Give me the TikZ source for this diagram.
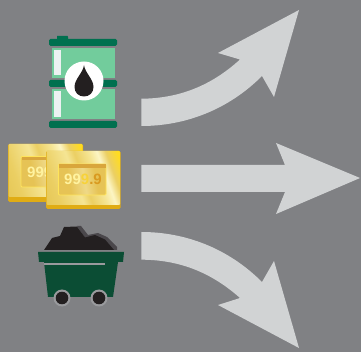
\documentclass[tikz,border=0pt]{standalone}
\usepackage{fontspec}
\setmainfont{Liberation Sans}
\definecolor{bgc}{HTML}{808184}
\definecolor{arrowc}{HTML}{D1D3D4}
\definecolor{barrelbar}{HTML}{00704F}
\definecolor{barrelbody}{HTML}{72CC9C}
\definecolor{barrelhi}{HTML}{EDF1F2}
\definecolor{cartc}{HTML}{0B4D34}
\definecolor{coalc}{HTML}{231F20}
\definecolor{coalside}{HTML}{4A474B}
\definecolor{gA}{HTML}{DDBB40}
\definecolor{gB}{HTML}{FCF5C4}
\definecolor{gC}{HTML}{EBCF63}
\definecolor{gD}{HTML}{FFDC20}
\definecolor{gE}{HTML}{E0AC14}
\definecolor{gF}{HTML}{F5E594}
\definecolor{gT}{HTML}{FFF3A0}
\definecolor{gU}{HTML}{FFE45A}
\definecolor{gV}{HTML}{D99A20}
\definecolor{gW}{HTML}{F7D23A}
\definecolor{gP}{HTML}{E6C355}
\definecolor{gQ}{HTML}{EFD987}
\definecolor{gR}{HTML}{D9A63C}
\pgfdeclareverticalshading{goldshade}{100bp}{
 color(0bp)=(gA); color(28bp)=(gC); color(44bp)=(gF); color(50bp)=(gC); color(60bp)=(gF); color(66bp)=(gB);
 color(72bp)=(gC); color(80bp)=(gD); color(100bp)=(gD)}
\pgfdeclareverticalshading{goldinner}{100bp}{
 color(0bp)=(gP); color(35bp)=(gP); color(52bp)=(gQ); color(65bp)=(gP); color(100bp)=(gP)}
\tikzset{
 bararrow/.style={fill=arrowc,draw=none},
 barrelband/.style={fill=barrelbar,draw=none,rounded corners=1.5pt},
 barrelpanel/.style={fill=barrelbody,draw=none},
 barrelshine/.style={fill=barrelhi,draw=none},
 goldrim/.style={fill=gE,draw=none,rounded corners=1.5pt},
 goldface/.style={shading=goldshade,shading angle=-70,draw=none,rounded corners=1pt},
 goldpanel/.style={shading=goldinner,shading angle=-80,draw=gU,line width=0.8pt,rounded corners=1pt},
 goldband/.style={fill=gR,draw=none},
 goldtext/.style={inner sep=0pt,font=\bfseries\fontsize{15}{15}\selectfont},
 wheelring/.style={fill=bgc!80!white,draw=none},
 wheelhub/.style={fill=coalc,draw=none}
}
\begin{document}
\begin{tikzpicture}[x=1pt,y=-1pt]
\useasboundingbox (0,0) rectangle (361,352);
\fill[bgc] (0,0) rectangle (361,352);
% arrows
\path[bararrow] (141.3,98.7) .. controls (180,98.5) and (212,85) .. (240,59.5)
 -- (218,53) -- (299,10) -- (274,97) -- (262,76)
 .. controls (228,110) and (185,126) .. (141.3,126) -- cycle;
\path[bararrow] (141.3,165) -- (285,165) -- (276,143) -- (360,178) -- (276,214) -- (285,192) -- (141.3,192) -- cycle;
\path[bararrow] (141.3,232) .. controls (185,232) and (228,248) .. (262,282)
 -- (274,261) -- (299,348) -- (218,305) -- (240,298)
 .. controls (212,273) and (180,259.7) .. (141.3,259.7) -- cycle;
% barrel
\path[barrelband] (57,41) -- (57,37.5) .. controls (57,36) and (58,36) .. (60,36) -- (66,36) .. controls (68,36) and (68,37) .. (68.5,41) -- cycle;
\path[barrelband] (49,39) rectangle (117,46);
\path[barrelband] (49,80) rectangle (117,87);
\path[barrelband] (49,121) rectangle (117,128);
\path[barrelpanel] (51.5,48) rectangle (115,78);
\path[barrelpanel] (51.5,89) rectangle (115,119);
\path[barrelshine] (54,50) rectangle (61,75);
\path[barrelshine] (54,91) rectangle (61,117);
\fill[white] (84,81) circle (19.5);
\fill[coalc] (84,65) .. controls (85,73) and (93.5,79) .. (93.5,87)
 .. controls (93.5,92.5) and (89.5,96.5) .. (84,96.5)
 .. controls (78.5,96.5) and (74.5,92.5) .. (74.5,87)
 .. controls (74.5,79) and (83,73) .. (84,65) -- cycle;
% gold bar 1
\path[goldrim] (8,144) rectangle (83,202);
\path[goldface] (8.5,144) rectangle (82.5,197);
\path[goldpanel] (21,156.5) rectangle (70,187);
\path[goldband] (22,157) rectangle (69.5,160);
\node[goldtext,text=gT] (goldA) at (46,172.5) {999.9};
% gold bar 2
\path[goldrim] (46,151) rectangle (120.5,209);
\path[goldface] (46.5,151) rectangle (120,205);
\path[goldpanel] (58.5,164) rectangle (106,195);
\path[goldband] (59,164.5) rectangle (105.5,168);
\node[goldtext,text=gT] (goldB) at (83,179) {\textcolor{gT}{99}\textcolor{gW}{9}\textcolor{gV}{.9}};
% coal
\fill[coalside] (77,226) -- (81,226) -- (88,235) -- (98,233) -- (107,237) -- (117,247) -- (117,250) -- (105,250) -- (100,238) -- (95,236) -- (85,238) -- cycle;
\fill[coalc] (44,250) -- (52,238) -- (60,236) -- (64,227) -- (77,226.5) -- (85,237.5) -- (95,235) -- (105,239.5) -- (114,250) -- cycle;
% cart
\fill[cartc] (38,252) -- (124,252) -- (123,262) -- (118,262) -- (113,297) -- (48,297) -- (44,262) -- (39,262) -- cycle;
\fill[bgc!80!white] (44,263.5) -- (105,263.5) -- (105,265) -- (44,265) -- cycle;
\path[wheelring] (62,298) circle (8.5);
\path[wheelring] (99,298) circle (8.5);
\path[wheelhub] (62,298) circle (6.3);
\path[wheelhub] (99,298) circle (6.3);
\end{tikzpicture}
\end{document}
